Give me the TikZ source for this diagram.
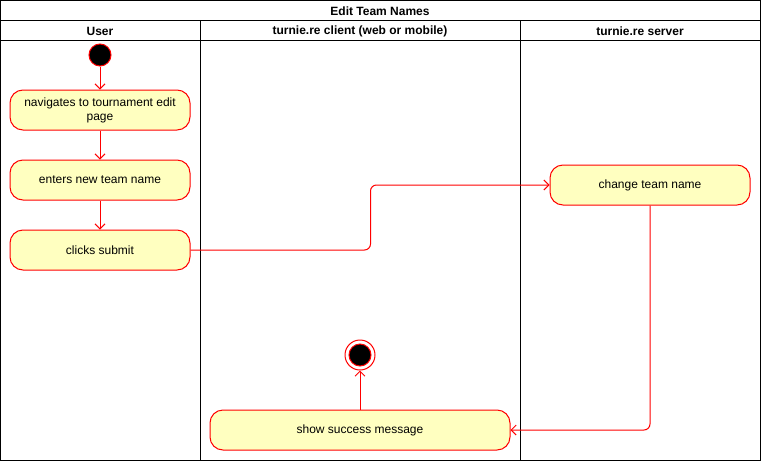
\documentclass[tikz,border=0pt]{standalone}
\usepackage{fontspec}
\setmainfont{Liberation Sans}
\usetikzlibrary{positioning, arrows.meta}
\definecolor{actfill}{HTML}{FFFFC0}
\tikzset{
		>={Straight Barb[length=5pt,width=10pt]},
		action/.style={draw=red, fill=actfill, rounded corners=13pt, minimum height=40pt,
			inner sep=0pt, align=center, font=\fontsize{12}{14}\selectfont},
		lanehead/.style={font=\bfseries\fontsize{12}{14}\selectfont, inner sep=0pt},
		startdot/.style={circle, draw=red, fill=black, minimum size=22pt, inner sep=0pt},
		endring/.style={circle, draw=red, fill=white, minimum size=30pt, inner sep=0pt},
		flow/.style={->, red, line width=1pt, rounded corners=6pt}
	}

\begin{document}
\begin{tikzpicture}[x=1pt, y=-1pt, line width=1pt]
		\useasboundingbox (0,0) rectangle (761,461);
		% pool and lanes
		\draw (0.5,0.5) rectangle (760.5,460.5);
		\draw (0.5,20.5) -- (760.5,20.5); \draw (0.5,40.5) -- (760.5,40.5);
		\draw (200.5,20.5) -- (200.5,460.5); \draw (520.5,20.5) -- (520.5,460.5);
		\node[lanehead] (title) at (380,11) {Edit Team Names};
		\node[lanehead] (user) at (100,31) {User};
		\node[lanehead] (client) at (360,31) {turnie.re client (web or mobile)};
		\node[lanehead] (server) at (640,31) {turnie.re server};
		% user lane
		\node[startdot] (start) at (100,55) {};
		\node[action, minimum width=180pt] (navigate) at (100,110) {navigates to tournament edit\\page};
		\node[action, minimum width=180pt] (enter) at (100,180) {enters new team name};
		\node[action, minimum width=180pt] (submit) at (100,250) {clicks submit};
		% server lane
		\node[action, minimum width=200pt] (change) at (650,185) {change team name};
		% client lane
		\node[action, minimum width=300pt] (success) at (360,430) {show success message};
		\node[endring] (finish) at (360,355) {};
		\node[startdot] (finishdot) at (finish) {};
		% flows
		\draw[flow] (start) -- (navigate);
		\draw[flow] (navigate) -- (enter);
		\draw[flow] (enter) -- (submit);
		\draw[flow] (submit.east) -- ++(180,0) |- (change.west);
		\draw[flow] (change.south) |- (success.east);
		\draw[flow] (success.north) -- (finish.south);
	\end{tikzpicture}
\end{document}
